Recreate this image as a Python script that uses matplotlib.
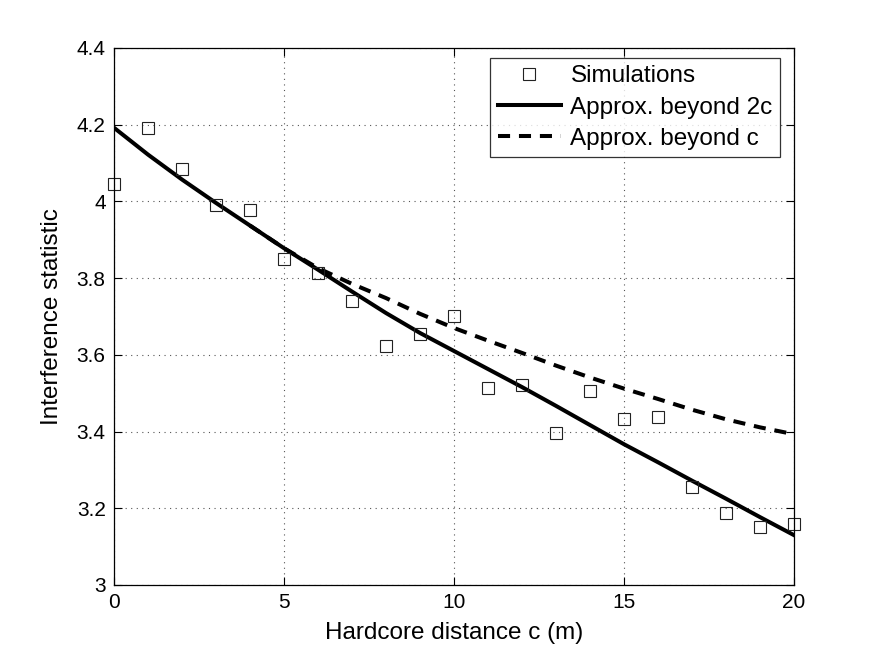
import matplotlib
matplotlib.use("Agg")
import matplotlib.pyplot as plt

plt.rcParams['font.family'] = ['Liberation Sans', 'DejaVu Sans']

c_sim = list(range(0, 21))
sim_vals = [4.045, 4.191, 4.084, 3.991, 3.978, 3.850, 3.813, 3.741, 3.624, 3.654,
            3.700, 3.513, 3.522, 3.397, 3.505, 3.433, 3.438, 3.256, 3.187, 3.152, 3.158]

c_2c = list(range(0, 21))
approx_2c = [4.192, 4.122, 4.057, 3.996, 3.937, 3.878, 3.822, 3.765, 3.709, 3.657,
             3.610, 3.563, 3.516, 3.467, 3.417, 3.367, 3.320, 3.272, 3.225, 3.177, 3.130]

c_1c = list(range(4, 21))
approx_1c = [3.937, 3.878, 3.826, 3.785, 3.748, 3.707, 3.670, 3.637, 3.605, 3.572,
             3.541, 3.512, 3.485, 3.457, 3.432, 3.411, 3.393]

fig = plt.figure(figsize=(8.75, 6.59), dpi=100)
ax = fig.add_axes([0.1303, 0.1123, 0.7771, 0.8149])

ax.plot(c_sim, sim_vals, linestyle='none', marker='s', markersize=8.5,
        markerfacecolor='none', markeredgecolor='#222222', markeredgewidth=0.8,
        label='Simulations', clip_on=False, zorder=4)
ax.plot(c_2c, approx_2c, color='black', linewidth=2.9, label='Approx. beyond 2c', zorder=3)
ax.plot(c_1c, approx_1c, color='black', linewidth=2.9, linestyle=(0, (3, 2.2)),
        label='Approx. beyond c', zorder=3)

ax.set_xlim(0, 20)
ax.set_ylim(3, 4.4)
ax.set_xticks([0, 5, 10, 15, 20])
ax.set_yticks([3, 3.2, 3.4, 3.6, 3.8, 4, 4.2, 4.4])
ax.set_yticklabels(['3', '3.2', '3.4', '3.6', '3.8', '4', '4.2', '4.4'])
ax.tick_params(direction='in', top=True, right=True, labelsize=15, length=6, pad=6)
ax.grid(True, linestyle=(0, (1, 4)), color='#555555', linewidth=0.8)
for s in ax.spines.values():
    s.set_linewidth(0.9)
    s.set_zorder(5)

ax.set_xlabel('Hardcore distance c (m)', fontsize=17.5, labelpad=7)
ax.set_ylabel('Interference statistic', fontsize=17.5, labelpad=10)

leg = ax.legend(loc='upper right', bbox_to_anchor=(0.9794, 0.9814), fontsize=17.5,
                frameon=True, fancybox=False, edgecolor='black', borderpad=0.3,
                labelspacing=0.38, handlelength=2.6, handletextpad=0.4, borderaxespad=0)
leg.get_frame().set_linewidth(0.9)
leg.set_zorder(6)

fig.savefig('out.png', dpi=100)
